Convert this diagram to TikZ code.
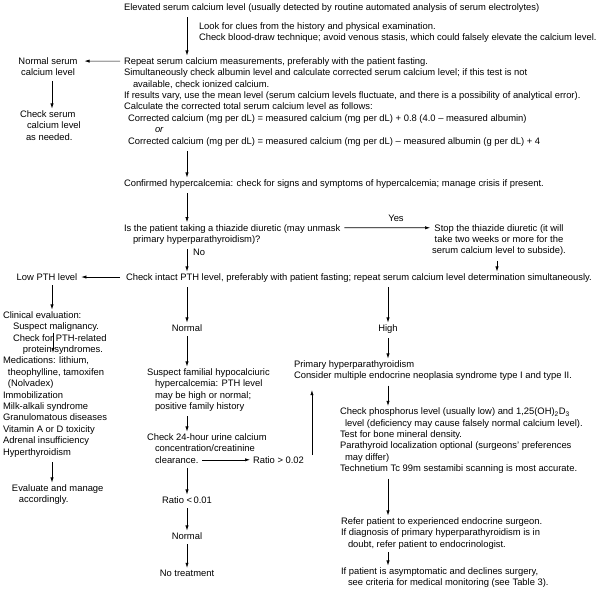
\documentclass[tikz,border=0pt]{standalone}
\usepackage{fontspec}
\setmainfont{Liberation Sans}
\usetikzlibrary{arrows.meta,calc}
\begin{document}
\begin{tikzpicture}[x=1pt,y=-1pt,
  txt/.style={inner sep=0pt, outer sep=0pt, font=\fontsize{9.4}{11.4}\selectfont, text=black},
  lt/.style={txt, align=left, anchor=base west},
  ct/.style={txt, align=center, anchor=base},
  arr/.style={draw=black, line width=0.6pt, -{Latex[length=5pt,width=3.2pt]}, shorten <=5pt, shorten >=2pt},
  harr/.style={draw=black, line width=0.6pt, -{Latex[length=5pt,width=3.2pt]}},
]
\useasboundingbox (0,0) rectangle (597,595);
\coordinate (c1) at (187,0);
\coordinate (c2) at (388,0);
\coordinate (c3) at (52,0);
\coordinate (c4) at (497,0);

% multi-line nodes are placed by the baseline of their LAST line
\node[lt] (elev) at (124,10.3) {Elevated serum calcium level (usually detected by routine automated analysis of serum electrolytes)};
\node[lt] (clues) at (199,40.7) {Look for clues from the history and physical examination.\\Check blood-draw technique; avoid venous stasis, which could falsely elevate the calcium level.};
\node[lt] (repeat) at (124,144.1) {Repeat serum calcium measurements, preferably with the patient fasting.\\Simultaneously check albumin level and calculate corrected serum calcium level; if this test is not\\\hspace*{9pt}available, check ionized calcium.\\If results vary, use the mean level (serum calcium levels fluctuate, and there is a possibility of analytical error).\\Calculate the corrected total serum calcium level as follows:\\\hspace*{4pt}Corrected calcium (mg per dL) = measured calcium (mg per dL) + 0.8 (4.0 – measured albumin)\\\hspace*{31pt}\textit{or}\\\hspace*{4pt}Corrected calcium (mg per dL) = measured calcium (mg per dL) – measured albumin (g per dL) + 4};
\node[ct] (normserum) at (48,75.7) {Normal serum\\calcium level};
\node[lt] (checkserum) at (20,140.1) {Check serum\\\hspace*{7pt}calcium level\\\hspace*{6pt}as needed.};
\node[lt] (confirmed) at (124,186.3) {Confirmed hypercalcemia: check for signs and symptoms of hypercalcemia; manage crisis if present.};
\node[lt] (thiazide) at (124,242.4) {Is the patient taking a thiazide diuretic (may unmask\\\hspace*{9pt}primary hyperparathyroidism)?};
\node[ct] (stop) at (499,253.8) {Stop the thiazide diuretic (it will\\take two weeks or more for the\\serum calcium level to subside).};
\node[txt, anchor=base] (yes) at (396,221.3) {Yes};
\node[txt, anchor=base west] (no) at (193,255.3) {No};
\node[lt] (pth) at (126,280.3) {Check intact PTH level, preferably with patient fasting; repeat serum calcium level determination simultaneously.};
\node[ct] (lowpth) at (47,280.3) {Low PTH level};
\node[lt] (clinical) at (3,455.1) {Clinical evaluation:\\\hspace*{10pt}Suspect malignancy.\\\hspace*{10pt}Check for PTH-related\\\hspace*{20pt}protein syndromes.\\Medications: lithium,\\\hspace*{5pt}theophylline, tamoxifen\\\hspace*{5pt}(Nolvadex)\\Immobilization\\Milk-alkali syndrome\\Granulomatous diseases\\Vitamin A or D toxicity\\Adrenal insufficiency\\Hyperthyroidism};
\node[lt] (evaluate) at (12,502.7) {Evaluate and manage\\\hspace*{7pt}accordingly.};
\node[ct] (normal) at (187,331.3) {Normal};
\node[ct] (high) at (388,331.3) {High};
\node[lt] (familial) at (147,409.5) {Suspect familial hypocalciuric\\\hspace*{8pt}hypercalcemia: PTH level\\\hspace*{8pt}may be high or normal;\\\hspace*{8pt}positive family history};
\node[lt] (urine) at (147,463.1) {Check 24-hour urine calcium\\\hspace*{8pt}concentration/creatinine\\\hspace*{8pt}clearance.};
\node[lt] (ratiohi) at (253,463.1) {Ratio > 0.02};
\node[ct] (ratiolo) at (187,503.3) {Ratio <\,0.01};
\node[ct] (normal2) at (187,539.3) {Normal};
\node[ct] (notreat) at (187,576.3) {No treatment};
\node[lt] (primary) at (294,378.7) {Primary hyperparathyroidism\\Consider multiple endocrine neoplasia syndrome type I and type II.};
\node[lt] (phos) at (340,471.7) {Check phosphorus level (usually low) and 1,25(OH)\textsubscript{2}D\textsubscript{3}\\\hspace*{5pt}level (deficiency may cause falsely normal calcium level).\\Test for bone mineral density.\\Parathyroid localization optional (surgeons’ preferences\\\hspace*{5pt}may differ)\\Technetium Tc 99m sestamibi scanning is most accurate.};
\node[lt] (refer) at (341,547.1) {Refer patient to experienced endocrine surgeon.\\If diagnosis of primary hyperparathyroidism is in\\\hspace*{7pt}doubt, refer patient to endocrinologist.};
\node[lt] (asym) at (341,585.7) {If patient is asymptomatic and declines surgery,\\\hspace*{7pt}see criteria for medical monitoring (see Table 3).};

% vertical connectors
\draw[arr] (elev.south -| c1) -- (repeat.north -| c1);
\draw[arr] (repeat.south -| c1) -- (confirmed.north -| c1);
\draw[arr] (confirmed.south -| c1) -- (thiazide.north -| c1);
\draw[arr] (thiazide.south -| c1) -- (pth.north -| c1);
\draw[arr] (pth.south -| c1) -- (normal.north -| c1);
\draw[arr] (pth.south -| c2) -- (high.north -| c2);
\draw[arr] (stop.south -| c4) -- (pth.north -| c4);
\draw[arr] (normserum.south -| c3) -- (checkserum.north -| c3);
\draw[arr] (lowpth.south -| c3) -- (clinical.north -| c3);
\draw[arr] (clinical.south -| c3) -- (evaluate.north -| c3);
\draw[arr] (normal.south -| c1) -- (familial.north -| c1);
\draw[arr] (familial.south -| c1) -- (urine.north -| c1);
\draw[arr] (urine.south -| c1) -- (ratiolo.north -| c1);
\draw[arr] (ratiolo.south -| c1) -- (normal2.north -| c1);
\draw[arr] (normal2.south -| c1) -- (notreat.north -| c1);
\draw[arr] (high.south -| c2) -- (primary.north -| c2);
\draw[arr] (primary.south -| c2) -- (phos.north -| c2);
\draw[arr] (phos.south -| c2) -- (refer.north -| c2);
\draw[arr, shorten <=3pt] (refer.south -| c2) -- (asym.north -| c2);

% horizontal connectors (at first lines)
\draw[harr] ($(repeat.north west)+(-4,3.6)$) -- ($(normserum.north east)+(7,3.6)$);
\draw[harr] ($(pth.base west)+(-6,-3.3)$) -- ($(lowpth.base east)+(4,-3.3)$);
\draw[harr] ($(thiazide.north east)+(4,3.6)$) -- ($(stop.north west)+(-2,3.6)$);
\draw[harr] ($(urine.base west)+(55,-3.3)$) -- ($(ratiohi.base west)+(-3,-3.3)$);
\draw[harr] ($(ratiohi.base east)+(8,-8)$) -- ++(0,-65);
\draw[harr] ($(clinical.north west)+(50,21.4)$) -- ++(0,20);
\end{tikzpicture}
\end{document}
